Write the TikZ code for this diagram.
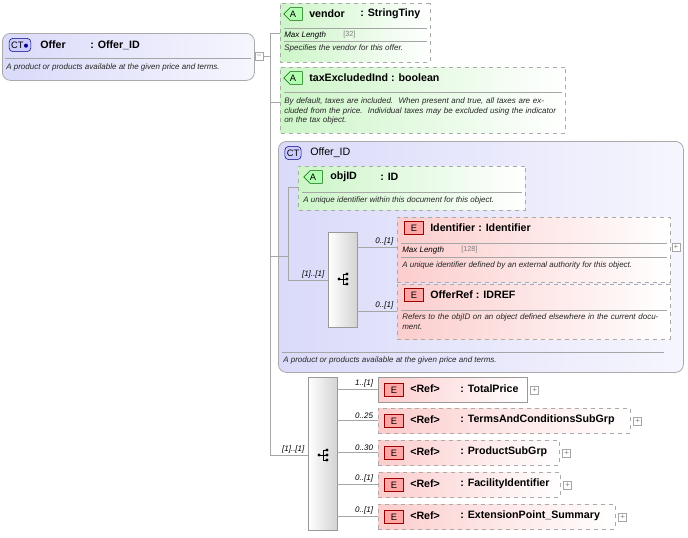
\documentclass[tikz,border=0pt]{standalone}
\usepackage{fontspec}
\setmainfont{Liberation Sans}
\usetikzlibrary{shapes.misc}
\definecolor{ctc}{RGB}{218,218,250}
\definecolor{atc}{RGB}{205,245,200}
\definecolor{elc}{RGB}{252,205,205}
\definecolor{bdr}{RGB}{170,170,170}
\begin{document}
\begin{tikzpicture}[x=0.75pt,y=-0.75pt,
  bx/.style 2 args={minimum width=#1*0.75pt,minimum height=#2*0.75pt,anchor=north west,inner sep=0pt},
  ct/.style={draw=bdr,rounded corners=6pt,left color=ctc,right color=ctc!25,line width=0.6pt},
  attr/.style={draw=bdr,dashed,chamfered rectangle,chamfered rectangle corners={north west,south west},chamfered rectangle xsep=4pt,left color=atc,right color=white,line width=0.6pt},
  el/.style={draw=bdr,dashed,left color=elc,right color=white,line width=0.6pt},
  els/.style={draw=gray!80,left color=elc,right color=white,line width=0.6pt},
  seq/.style={draw=gray!80,left color=white,right color=gray!35,line width=0.6pt},
  ttl/.style={font=\bfseries\fontsize{8}{9}\selectfont,anchor=west,inner sep=0pt},
  dsc/.style={font=\itshape\fontsize{6}{7.4}\selectfont,anchor=west,inner sep=0pt,color=black!85},
  ml/.style={font=\itshape\fontsize{6}{7}\selectfont,anchor=west,inner sep=0pt},
  mlv/.style={font=\fontsize{5.5}{7}\selectfont,anchor=west,inner sep=0pt,color=gray},
  card/.style={font=\itshape\fontsize{6}{7}\selectfont,anchor=south east,inner sep=1pt},
  sep/.style={draw=gray!70,line width=0.5pt},
  cn/.style={draw=gray!70,line width=0.6pt},
  plus/.style={draw=gray!70,fill=white,minimum size=6pt,inner sep=0pt,font=\fontsize{6}{6}\selectfont,text=gray},
  bE/.style={draw=red!60!black,fill=red!35,minimum width=14pt,minimum height=10pt,inner sep=0pt,font=\fontsize{7}{7}\selectfont},
  bA/.style={draw=green!40!black,fill=green!30,chamfered rectangle,chamfered rectangle corners={north west,south west},chamfered rectangle xsep=2.5pt,minimum width=14pt,minimum height=9pt,inner sep=0pt,font=\fontsize{7}{7}\selectfont},
  bCT/.style={draw=blue!50!black,fill=blue!20,rounded corners=3pt,minimum height=10pt,inner sep=1.5pt,font=\fontsize{7}{7}\selectfont}]
\useasboundingbox (0,0) rectangle (688,537);
% Offer
\node[ct,bx={252}{47}] (offer) at (2,33) {};
\node[bCT] (offerct) at (20,45) {CT\textcolor{blue!60!black}{$\bullet$}};
\node[ttl] (offern) at (40,45) {Offer};
\node[ttl] (offert) at (90,45) {: Offer\_ID};
\draw[sep] (5,58) -- (251,58);
\node[dsc] (offerd) at (6,67) {A product or products available at the given price and terms.};
\node[plus] (omin) at (259,56) {--};
\coordinate (j0) at (270,56);
\draw[cn] (omin) -- (j0);
\coordinate (jtop) at (270,34);
\coordinate (jbot) at (270,455);
\draw[cn] (jtop) -- (jbot);
% vendor
\node[attr,bx={150}{59}] (vendor) at (280,3) {};
\node[bA] (vba) at (293,14) {A};
\node[ttl] at (309,14) {vendor};
\node[ttl] at (360,14) {: StringTiny};
\draw[sep] (284,28) -- (427,28);
\node[ml] at (284,35) {Max Length};
\node[mlv] at (343,35) {[32]};
\draw[sep] (284,41) -- (427,41);
\node[dsc] at (284,48) {Specifies the vendor for this offer.};
\coordinate (cv) at (270,33);
\draw[cn] (cv) -- (vendor.west |- cv);
% tax
\node[attr,bx={285}{66}] (tax) at (280,67) {};
\node[bA] at (293,78) {A};
\node[ttl] at (309,78) {taxExcludedInd : boolean};
\draw[sep] (284,92) -- (562,92);
\node[dsc,align=left,text width=280*0.75pt] at (284,111) {By default, taxes are included.\ \ When present and true, all taxes are excluded from the price.\ \ Individual taxes may be excluded using the indicator on the tax object.};
\coordinate (ct2) at (270,102);
\draw[cn] (ct2) -- (tax.west |- ct2);
% Offer_ID CT
\node[ct,bx={405}{231}] (oid) at (278,141) {};
\node[bCT] at (293,153) {CT};
\node[ttl,font=\fontsize{8}{9}\selectfont] at (310,153) {Offer\_ID};
\draw[sep] (282,352) -- (664,352);
\node[dsc] at (283,360) {A product or products available at the given price and terms.};
\coordinate (c3) at (270,256);
\coordinate (c3b) at (288,256);
\draw[cn] (c3) -- (c3b);
\coordinate (v1) at (288,187);
\coordinate (v2) at (288,280);
\draw[cn] (v1) -- (v2);
% objID
\node[attr,bx={227}{44}] (objid) at (298,166) {};
\node[bA] at (313,177) {A};
\node[ttl] at (330,177) {objID};
\node[ttl] at (380,177) {: ID};
\draw[sep] (302,192) -- (522,192);
\node[dsc] at (303,200) {A unique identifier within this document for this object.};
\draw[cn] (v1) -- (objid.west |- v1);
% seq 1
\node[seq,bx={29}{95}] (s1) at (328,232) {};
\draw[cn] (v2) -- node[card,pos=0.95]{[1]..[1]} (s1.west |- v2);
\foreach \yy in {-5,0,5}{\fill (347,279+\yy) circle (1.6);}
\fill (339,279) circle (1.6);
\draw (339,279) -- (343,279) (343,274) -- (343,284) (343,274)--(347,274) (343,284)--(347,284) (343,279)--(347,279);
% Identifier
\node[el,bx={273}{65}] (ident) at (397,217) {};
\node[bE] at (414,228) {E};
\node[ttl] at (430,228) {Identifier : Identifier};
\draw[sep] (401,243) -- (667,243);
\node[ml] at (402,250) {Max Length};
\node[mlv] at (461,250) {[128]};
\draw[sep] (401,257) -- (667,257);
\node[dsc] at (402,265) {A unique identifier defined by an external authority for this object.};
\node[plus] at (676,247) {+};
\coordinate (c4) at (357,247);
\draw[cn] (c4) -- node[card,pos=0.95]{0..[1]} (ident.west |- c4);
% OfferRef
\node[el,bx={273}{55}] (oref) at (397,284) {};
\node[bE] at (414,295) {E};
\node[ttl] at (430,295) {OfferRef : IDREF};
\draw[sep] (401,310) -- (667,310);
\node[dsc,align=left,text width=265*0.75pt] at (402,322) {Refers to the objID on an object defined elsewhere in the current document.};
\coordinate (c5) at (357,311);
\draw[cn] (c5) -- node[card,pos=0.95]{0..[1]} (oref.west |- c5);
% seq 2
\node[seq,bx={29}{153}] (s2) at (308,377) {};
\draw[cn] (jbot) -- node[card,pos=0.95]{[1]..[1]} (s2.west |- jbot);
\fill (319,455) circle (1.6);
\foreach \yy in {-5,0,5}{\fill (327,455+\yy) circle (1.6);}
\draw (319,455) -- (323,455) (323,450) -- (323,460) (323,450)--(327,450) (323,460)--(327,460) (323,455)--(327,455);
% refs
\foreach \n/\y/\w/\t/\c/\s in {r1/377/149/TotalPrice/1..[1]/els, r2/408/252/TermsAndConditionsSubGrp/0..25/el, r3/440/181/ProductSubGrp/0..30/el, r4/472/182/FacilityIdentifier/0..[1]/el, r5/504/237/ExtensionPoint\_Summary/0..[1]/el}{
  \node[\s,bx={\w}{25}] (\n) at (378,\y) {};
  \node[bE] at (394,\y+13) {E};
  \node[ttl] at (410,\y+12) {<Ref>};
  \node[ttl] at (460,\y+12) {: \t};
  \node[plus,anchor=west] at ([xshift=2pt]\n.east) {+};
  \coordinate (c\n) at (337,\y+12);
  \draw[cn] (c\n) -- node[card,pos=0.92]{\c} (\n.west |- c\n);
}
\end{tikzpicture}
\end{document}
